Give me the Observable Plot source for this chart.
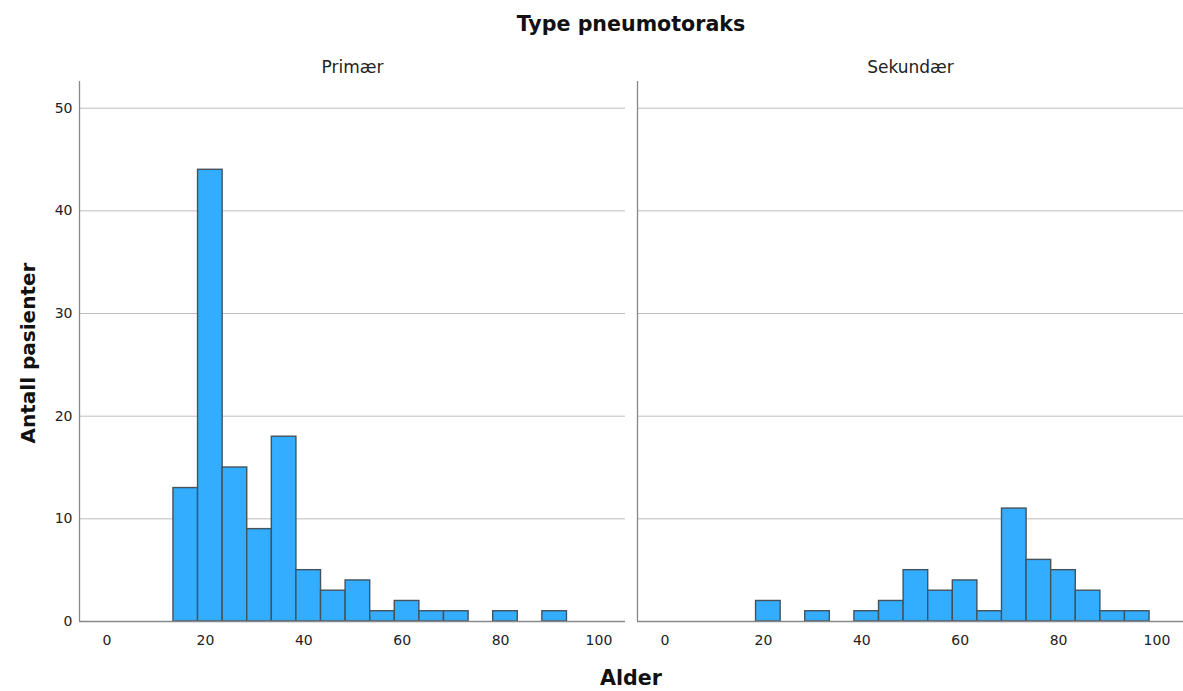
<!DOCTYPE html>
<html><head><meta charset="utf-8">
<script src="https://cdn.jsdelivr.net/npm/d3@7"></script>
<script src="https://cdn.jsdelivr.net/npm/@observablehq/plot@0.6"></script>
<style>
body{margin:0;background:#fff;font-family:"DejaVu Sans",sans-serif}
#wrap{position:relative;width:1183px;height:691px}
#wrap svg{position:absolute;left:0;top:0}
.lbl{position:absolute;font-weight:bold;font-size:20px;color:#111;white-space:nowrap;transform:translate(-50%,-50%);z-index:2}
</style></head><body>
<div id="wrap">
<div class="lbl" style="left:631px;top:24px;font-size:20.6px">Type pneumotoraks</div>
<div class="lbl" style="left:28px;top:353px;transform:translate(-50%,-50%) rotate(-90deg)">Antall pasienter</div>
<div class="lbl" style="left:631px;top:678px;font-size:20.6px">Alder</div>
</div>
<script>
const panels = ["Primær", "Sekundær"];
const binWidth = 5;
const binLower = [13.5, 18.5, 23.5, 28.5, 33.5, 38.5, 43.5, 48.5, 53.5, 58.5, 63.5, 68.5, 73.5, 78.5, 83.5, 88.5, 93.5];
const primaer  = [13, 44, 15, 9, 18, 5, 3, 4, 1, 2, 1, 1, 0, 1, 0, 1, 0];
const sekundaer = [0, 2, 0, 1, 0, 1, 2, 5, 3, 4, 1, 11, 6, 5, 3, 1, 1];
const xTicks = [0, 20, 40, 60, 80, 100];
const yTicks = [0, 10, 20, 30, 40, 50];
const gridTicks = [10, 20, 30, 40, 50];
const xDomain = [-5.6, 105.4];
const yDomain = [0, 52.6];

const rows = [];
binLower.forEach((b, i) => {
  rows.push({type: panels[0], x1: b, x2: b + binWidth, n: primaer[i]});
  rows.push({type: panels[1], x1: b, x2: b + binWidth, n: sekundaer[i]});
});
const bars = rows.filter(d => d.n > 0);

const chart = Plot.plot({
  width: 1183, height: 691,
  marginLeft: 79, marginRight: 0, marginTop: 81, marginBottom: 70,
  style: {fontFamily: "DejaVu Sans", fontSize: "14px", color: "#222", background: "transparent"},
  fx: {domain: panels, paddingInner: 12 / 558, paddingOuter: 0, label: null},
  x: {domain: xDomain},
  y: {domain: yDomain},
  marks: [
    Plot.ruleY(gridTicks, {stroke: "#bdbdbd", strokeWidth: 1}),
    Plot.rectY(bars, {fx: "type", x1: "x1", x2: "x2", y: "n", fill: "#33adff", stroke: "#44525c", strokeWidth: 1.4}),
    Plot.ruleY([0], {stroke: "#888", strokeWidth: 1.3}),
    Plot.ruleX([xDomain[0]], {stroke: "#888", strokeWidth: 1.3}),
    Plot.axisFx({anchor: "top", tickSize: 0, tickPadding: 9, fontSize: 17, label: null}),
    Plot.axisX({ticks: xTicks, tickSize: 0, tickPadding: 14, fontSize: 14, label: null}),
    Plot.axisY({ticks: yTicks, tickSize: 0, tickPadding: 7, fontSize: 14, label: null})
  ]
});
document.getElementById("wrap").appendChild(chart);
</script>
</body></html>
